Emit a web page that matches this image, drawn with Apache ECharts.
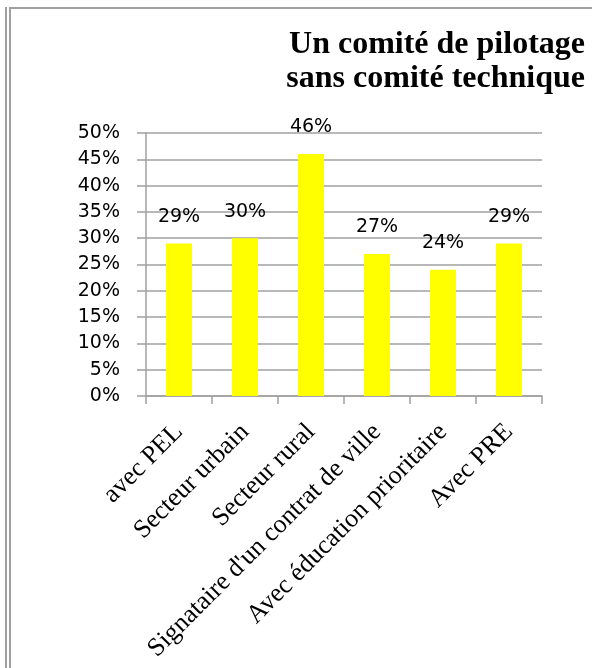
<!DOCTYPE html>
<html>
<head>
<meta charset="utf-8">
<script src="https://cdn.jsdelivr.net/npm/echarts@6/dist/echarts.min.js"></script>
<style>
html,body{margin:0;padding:0;background:#fff;}
#chart{width:592px;height:668px;}
</style>
</head>
<body>
<div id="chart"></div>
<script>
const categories = ["avec PEL", "Secteur urbain", "Secteur rural", "Signataire d'un contrat de ville", "Avec éducation prioritaire", "Avec PRE"];
const values = [29, 30, 46, 27, 24, 29];
const yTicks = { min: 0, max: 50, interval: 5 };
const titleText = "Un comité de pilotage\nsans comité technique";

const chart = echarts.init(document.getElementById('chart'), null, { renderer: 'canvas' });
const gridColor = '#a0a0a0';
chart.setOption({
  animation: false,
  backgroundColor: '#ffffff',
  graphic: [
    { type: 'line', shape: { x1: 6, y1: 7, x2: 6, y2: 668 }, style: { stroke: gridColor, lineWidth: 2 } },
    { type: 'line', shape: { x1: 10, y1: 8, x2: 10, y2: 668 }, style: { stroke: gridColor, lineWidth: 2 } },
    { type: 'line', shape: { x1: 9, y1: 8, x2: 592, y2: 8 }, style: { stroke: gridColor, lineWidth: 2 } },
    {
      type: 'text', x: 585, y: 28,
      style: {
        text: titleText,
        align: 'right',
        verticalAlign: 'top',
        fontFamily: 'Liberation Serif',
        fontWeight: 'bold',
        fontSize: 32,
        lineHeight: 34,
        fill: '#000'
      }
    }
  ],
  grid: { left: 146, right: 50, top: 133, bottom: 272, containLabel: false },
  xAxis: {
    type: 'category',
    data: categories,
    boundaryGap: true,
    axisLine: { lineStyle: { color: gridColor, width: 1.5 } },
    axisTick: { show: true, length: 8, alignWithLabel: false, lineStyle: { color: gridColor, width: 1.5 } },
    axisLabel: {
      rotate: 45,
      interval: 0,
      margin: 32,
      fontFamily: 'Liberation Serif',
      fontSize: 26,
      color: '#000'
    }
  },
  yAxis: {
    type: 'value',
    min: yTicks.min,
    max: yTicks.max,
    interval: yTicks.interval,
    axisLine: { show: true, lineStyle: { color: gridColor, width: 1.5 } },
    axisTick: { show: true, length: 9, lineStyle: { color: gridColor, width: 1.5 } },
    splitLine: { show: true, lineStyle: { color: gridColor, width: 1.5 } },
    axisLabel: {
      formatter: '{value}%',
      margin: 26,
      fontFamily: 'DejaVu Sans',
      fontSize: 19,
      color: '#000'
    }
  },
  series: [{
    type: 'bar',
    data: values,
    barWidth: 26,
    itemStyle: { color: '#ffff00' },
    label: {
      show: true,
      position: 'top',
      distance: 17,
      formatter: '{c}%',
      fontFamily: 'DejaVu Sans',
      fontSize: 19,
      color: '#000'
    }
  }]
});
</script>
</body>
</html>
